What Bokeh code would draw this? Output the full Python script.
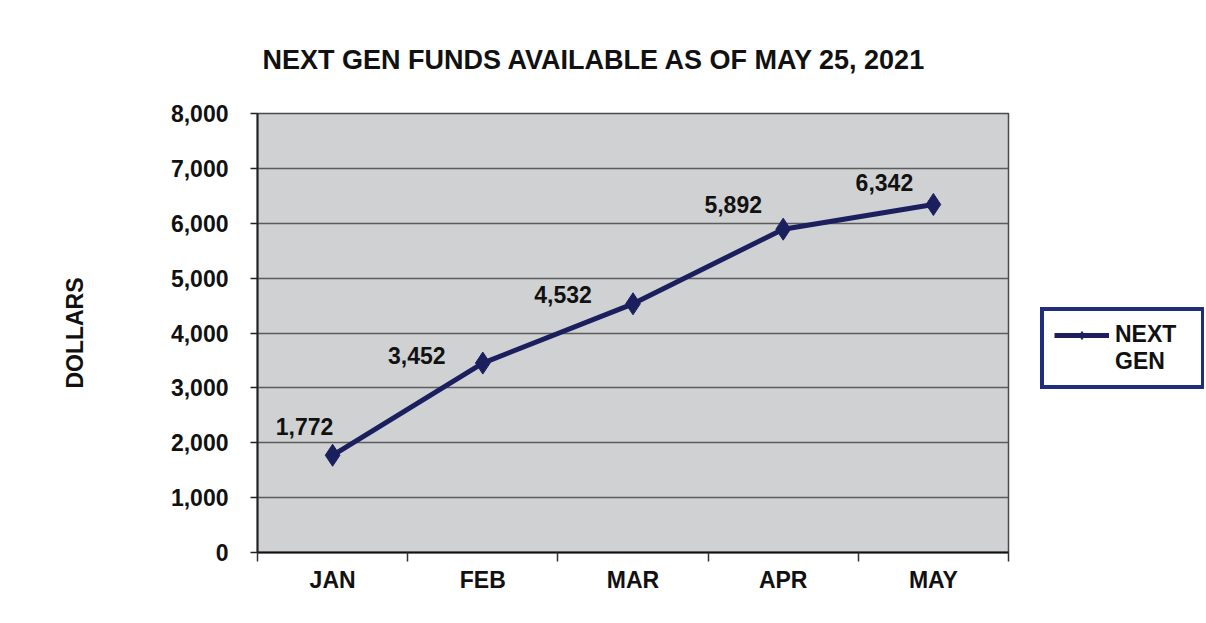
from bokeh.plotting import figure
from bokeh.layouts import row
from bokeh.models import (Range1d, FixedTicker, NumeralTickFormatter, Legend, LegendItem, Title, ColumnDataSource)
from bokeh.embed import file_html
from bokeh.resources import INLINE
from bokeh.core.properties import value

# ---- data ----
months = ["JAN", "FEB", "MAR", "APR", "MAY"]
funds = [1772, 3452, 4532, 5892, 6342]
y_ticks = [0, 1000, 2000, 3000, 4000, 5000, 6000, 7000, 8000]
series_name = ["NEXT", "GEN"]
title_text = "NEXT GEN FUNDS AVAILABLE AS OF MAY 25, 2021"

# ---- styling (label offsets in pixels) ----
label_dx = [-28, -66, -70, -50, -49]
label_dy = [-29, -8, -9, -25, -22]

FONT = "Liberation Sans"
NAVY = "#1b1f5e"

xs = [i + 0.5 for i in range(len(months))]

p = figure(width=1018, height=615, output_backend="svg", toolbar_location=None,
           x_range=Range1d(0, len(months)), y_range=Range1d(0, 8000),
           min_border_left=257, min_border_right=10, min_border_top=113, min_border_bottom=63)

p.background_fill_color = "#d0d1d3"
p.border_fill_color = "white"
p.outline_line_color = "#4a4a4a"
p.outline_line_width = 1.5

# title
t = Title(text=title_text, align="left", offset=5, standoff=77,
          text_font=FONT, text_font_size="27px", text_font_style="bold", text_color="#111111")
p.title = t

# grid
p.xgrid.visible = False
p.ygrid.ticker = FixedTicker(ticks=y_ticks)
p.ygrid.grid_line_color = "#5c5c5c"
p.ygrid.grid_line_width = 1.5

# y axis
p.yaxis.ticker = FixedTicker(ticks=y_ticks)
p.yaxis.formatter = NumeralTickFormatter(format="0,0")
p.yaxis.axis_label = "DOLLARS"
p.yaxis.axis_label_standoff = 80
p.yaxis.axis_label_text_font = FONT
p.yaxis.axis_label_text_font_size = "23px"
p.yaxis.axis_label_text_font_style = "bold"
p.yaxis.axis_label_text_color = "#111111"
p.yaxis.major_label_text_font = FONT
p.yaxis.major_label_text_font_size = "23px"
p.yaxis.major_label_text_font_style = "bold"
p.yaxis.major_label_text_color = "#111111"
p.yaxis.major_label_standoff = 22
p.yaxis.major_tick_out = 7
p.yaxis.major_tick_in = 0
p.yaxis.minor_tick_out = 0
p.yaxis.minor_tick_in = 0
p.yaxis.axis_line_color = "#222222"
p.yaxis.axis_line_width = 2
p.yaxis.major_tick_line_color = "#222222"
p.yaxis.major_tick_line_width = 1.5

# x axis: labels at category centres, tick marks at boundaries
p.xaxis.ticker = FixedTicker(ticks=xs, minor_ticks=list(range(len(months) + 1)))
p.xaxis.major_label_overrides = {x: m for x, m in zip(xs, months)}
p.xaxis.major_tick_out = 0
p.xaxis.major_tick_in = 0
p.xaxis.minor_tick_out = 9
p.xaxis.minor_tick_in = 0
p.xaxis.minor_tick_line_color = "#333333"
p.xaxis.minor_tick_line_width = 1.5
p.xaxis.major_label_standoff = 5
p.xaxis.major_label_text_font = FONT
p.xaxis.major_label_text_font_size = "23px"
p.xaxis.major_label_text_font_style = "bold"
p.xaxis.major_label_text_color = "#111111"
p.xaxis.axis_line_color = "#111111"
p.xaxis.axis_line_width = 2

src = ColumnDataSource(dict(x=xs, y=funds, lab=[f"{v:,}" for v in funds], dx=label_dx, dy=label_dy))

p.line("x", "y", source=src, line_color=NAVY, line_width=5)
p.scatter("x", "y", source=src, marker="diamond", size=22, fill_color=NAVY, line_color=NAVY)

p.text("x", "y", text="lab", source=src, x_offset="dx", y_offset="dy",
       text_font=value(FONT), text_font_size="23px", text_font_style="bold",
       text_color="#111111", text_align="center", text_baseline="middle")

# ---- legend panel (separate figure to the right) ----
q = figure(width=186, height=615, output_backend="svg", toolbar_location=None,
           x_range=Range1d(0, 1), y_range=Range1d(0, 1),
           min_border_left=0, min_border_right=0, min_border_top=0, min_border_bottom=0)
q.axis.visible = False
q.grid.visible = False
q.outline_line_color = None
q.background_fill_color = "white"
q.border_fill_color = "white"

# legend swatch renderers: points placed outside the visible range so only the legend shows them
off = [5, 6]
lq = q.line(x=off, y=off, line_color=NAVY, line_width=5)
mq = q.scatter(x=off, y=off, marker="diamond", size=15, fill_color=NAVY, line_color=NAVY)
blank = q.line(x=off, y=off, line_alpha=0)

legend = Legend(items=[LegendItem(label=series_name[0], renderers=[lq, mq]),
                       LegendItem(label=series_name[1], renderers=[blank])],
                location=(22, 163), margin=0, padding=10, spacing=0,
                glyph_width=55, label_standoff=6, label_height=22, label_width=76,
                border_line_color="#1f2d7d", border_line_width=4, border_line_alpha=1.0,
                background_fill_color="white", background_fill_alpha=1.0,
                label_text_font=FONT, label_text_font_size="23px", label_text_font_style="bold",
                label_text_color="#111111")
q.add_layout(legend)

layout = row(p, q, spacing=0)
open("out.html", "w").write(file_html(layout, INLINE))
